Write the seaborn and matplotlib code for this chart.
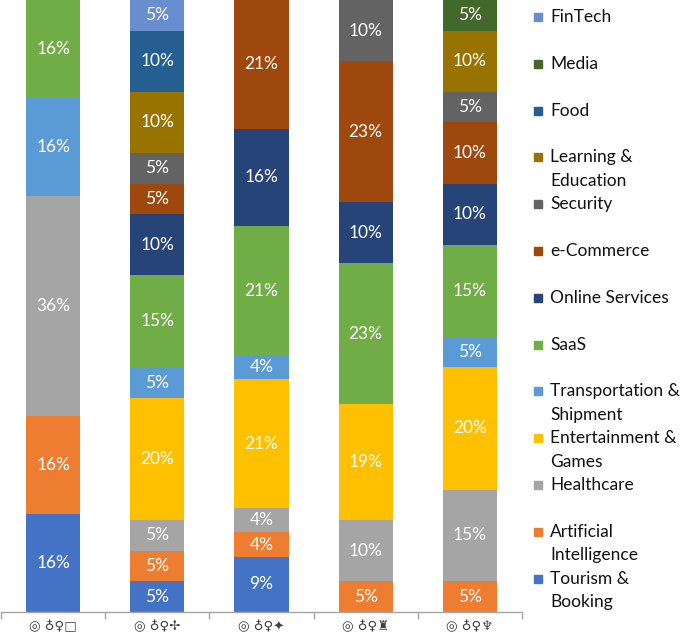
import matplotlib
matplotlib.use("Agg")
import matplotlib.pyplot as plt
import seaborn as sns
import numpy as np
from matplotlib.patches import Rectangle

# ---- data ----
groups = ["◎ ♁♀□", "◎ ♁♀✢", "◎ ♁♀✦", "◎ ♁♀♜", "◎ ♁♀♆"]
categories = ["Tourism & Booking", "Artificial Intelligence", "Healthcare",
              "Entertainment & Games", "Transportation & Shipment", "SaaS",
              "Online Services", "e-Commerce", "Security", "Learning & Education",
              "Food", "Media", "FinTech"]
legend_labels = ["Tourism &\nBooking", "Artificial\nIntelligence", "Healthcare",
                 "Entertainment &\nGames", "Transportation &\nShipment", "SaaS",
                 "Online Services", "e-Commerce", "Security", "Learning &\nEducation",
                 "Food", "Media", "FinTech"]
tourism       = [16, 5, 9, 0, 0]
ai            = [16, 5, 4, 5, 5]
healthcare    = [36, 5, 4, 10, 15]
entertainment = [0, 20, 21, 19, 20]
transport     = [16, 5, 4, 0, 5]
saas          = [16, 15, 21, 23, 15]
online        = [0, 10, 16, 10, 10]
ecommerce     = [0, 5, 21, 23, 10]
security      = [0, 5, 0, 10, 5]
learning      = [0, 10, 0, 0, 10]
food          = [0, 10, 0, 0, 0]
media         = [0, 0, 0, 0, 5]
fintech       = [0, 5, 0, 0, 0]
series = [tourism, ai, healthcare, entertainment, transport, saas, online,
          ecommerce, security, learning, food, media, fintech]
colors = ["#4472C4", "#ED7D31", "#A5A5A5", "#FFC000", "#5B9BD5", "#70AD47",
          "#264478", "#9E480E", "#636363", "#997300", "#255E91", "#43682B",
          "#698ED0"]

sns.set_theme(style="white")
plt.rcParams['font.family'] = ['Lato', 'DejaVu Sans']

fig = plt.figure(figsize=(6.85, 6.32), dpi=100)
W, H = 685, 632
ax = fig.add_axes([1 / W, 1 - 612 / H, 521 / W, 612 / H])

vals = np.array(series, dtype=float)
cum = np.cumsum(vals, axis=0)
# draw cumulative heights from the top category down so lower layers overlay
for i in range(len(categories) - 1, -1, -1):
    sns.barplot(x=groups, y=cum[i], color=colors[i], saturation=1,
                width=0.52, ax=ax, linewidth=0)

for i in range(len(categories)):
    for j in range(len(groups)):
        v = vals[i, j]
        if v > 0:
            ax.text(j, cum[i, j] - v / 2, f"{int(v)}%", ha="center", va="center",
                    color="white", fontsize=12.5)

ax.set_xlim(-0.5, 4.5)
ax.set_ylim(0, 100)
ax.set_ylabel("")
ax.set_yticks([])
for s in ["top", "right", "left"]:
    ax.spines[s].set_visible(False)
ax.spines["bottom"].set_color("#A6A6A6")
ax.spines["bottom"].set_linewidth(1)
ax.set_xticks(range(len(groups)))
ax.set_xticklabels(groups, fontsize=9.5, color="#404040", family=['DejaVu Sans'])
ax.tick_params(axis="x", which="major", length=0, pad=6)
ax.set_xticks(np.arange(-0.5, 5, 1), minor=True)
ax.tick_params(axis="x", which="minor", length=5, color="#A6A6A6", width=1,
               direction="out", bottom=True)

# legend (top = FinTech)
order = list(range(len(categories) - 1, -1, -1))
for k, i in enumerate(order):
    yc = 17 + k * 46.8
    fig.patches.append(Rectangle(((534) / W, 1 - (yc + 4) / H), 8 / W, 8 / H,
                                 transform=fig.transFigure, color=colors[i]))
    lines = legend_labels[i].split("\n")
    for li, t in enumerate(lines):
        fig.text(550 / W, 1 - (yc + li * 23.5) / H, t, ha="left", va="center",
                 fontsize=12.5, color="#111111")

fig.savefig("out.png", dpi=100)
